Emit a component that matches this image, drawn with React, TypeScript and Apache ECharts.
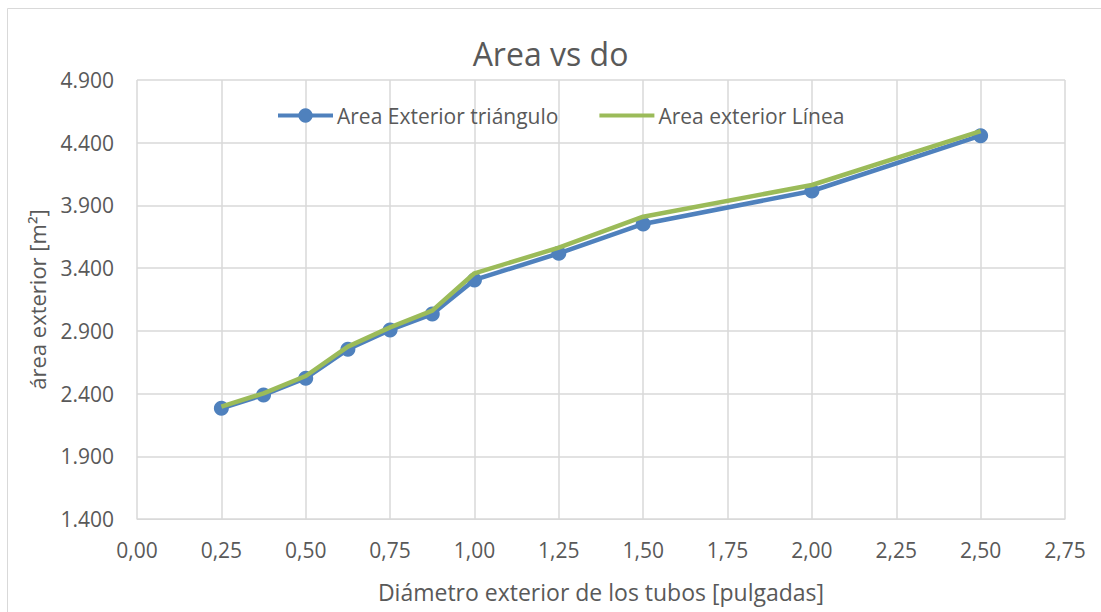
import React, { useEffect, useRef } from "react";
import * as echarts from "echarts";

const diameters = [0.25, 0.375, 0.5, 0.625, 0.75, 0.875, 1.0, 1.25, 1.5, 2.0, 2.5];
const areaTriangulo = [2283, 2389, 2522, 2753, 2907, 3034, 3306, 3518, 3752, 4015, 4456];
const areaLinea = [2296, 2402, 2540, 2774, 2928, 3061, 3359, 3563, 3810, 4063, 4493];
const seriesNames = ["Area Exterior triángulo", "Area exterior Línea"];
const titleText = "Area vs do";
const xAxisName = "Diámetro exterior de los tubos [pulgadas]";
const yAxisName = "área exterior [m²]";

const FONT = "'Open Sans', sans-serif";
const TEXT = "#595959";
const BLUE = "#4f81bd";
const GREEN = "#9bbb59";

function fmtThousands(v: number) {
  const s = Math.round(v).toString();
  return s.replace(/\B(?=(\d{3})+(?!\d))/g, ".");
}

export default function App() {
  const ref = useRef<HTMLDivElement>(null);
  useEffect(() => {
    document.body.style.margin = "0";
    if (!ref.current) return;
    const chart = echarts.init(ref.current, undefined, { renderer: "svg" });
    chart.setOption({
      animation: false,
      backgroundColor: "#ffffff",
      textStyle: { fontFamily: FONT },
      title: {
        text: titleText,
        left: "center",
        top: 32,
        textStyle: { fontFamily: FONT, fontSize: 32, fontWeight: "normal", color: TEXT },
      },
      legend: {
        left: 276,
        top: 105,
        padding: 0,
        itemWidth: 55,
        itemHeight: 18,
        itemGap: 41,
        lineStyle: { width: 4 },
        textStyle: { fontFamily: FONT, fontSize: 21, color: TEXT, padding: [0, 0, 0, -1] },
        data: [
          { name: seriesNames[0] },
          { name: seriesNames[1], icon: "path://M0,0L55,0L55,4L0,4Z" },
        ],
      },
      grid: { left: 137, right: 36, top: 80, bottom: 93, containLabel: false },
      xAxis: {
        type: "value",
        min: 0,
        max: 2.75,
        interval: 0.25,
        name: xAxisName,
        nameLocation: "middle",
        nameGap: 61,
        nameTextStyle: { fontFamily: FONT, fontSize: 23, color: TEXT },
        axisLine: { show: true, lineStyle: { color: "#d9d9d9", width: 1 } },
        axisTick: { show: false },
        axisLabel: {
          color: TEXT,
          fontFamily: FONT,
          fontSize: 21,
          margin: 20,
          formatter: (v: number) => v.toFixed(2).replace(".", ","),
        },
        splitLine: { show: true, lineStyle: { color: "#d9d9d9", width: 1.5 } },
      },
      yAxis: {
        type: "value",
        min: 1400,
        max: 4900,
        interval: 500,
        name: yAxisName,
        nameLocation: "middle",
        nameGap: 89,
        nameTextStyle: { fontFamily: FONT, fontSize: 22, color: TEXT },
        axisLine: { show: false },
        axisTick: { show: false },
        axisLabel: {
          color: TEXT,
          fontFamily: FONT,
          fontSize: 21,
          margin: 23,
          formatter: (v: number) => fmtThousands(v),
        },
        splitLine: { show: true, lineStyle: { color: "#d9d9d9", width: 1.5 } },
      },
      graphic: [
        {
          type: "rect",
          shape: { x: 7.5, y: 8.5, width: 1120, height: 640 },
          style: { fill: "none", stroke: "#d9d9d9", lineWidth: 1 },
          silent: true,
          z: -1,
        },
      ],
      series: [
        {
          name: seriesNames[0],
          type: "line",
          data: diameters.map((d, i) => [d, areaTriangulo[i]]),
          symbol: "circle",
          symbolSize: 15,
          showSymbol: true,
          lineStyle: { color: BLUE, width: 4.5 },
          itemStyle: { color: BLUE },
          z: 2,
        },
        {
          name: seriesNames[1],
          type: "line",
          data: diameters.map((d, i) => [d, areaLinea[i]]),
          symbol: "none",
          showSymbol: false,
          lineStyle: { color: GREEN, width: 4.5 },
          itemStyle: { color: GREEN },
          z: 3,
        },
      ],
    });
    return () => chart.dispose();
  }, []);
  return <div ref={ref} style={{ width: 1101, height: 612 }} />;
}
